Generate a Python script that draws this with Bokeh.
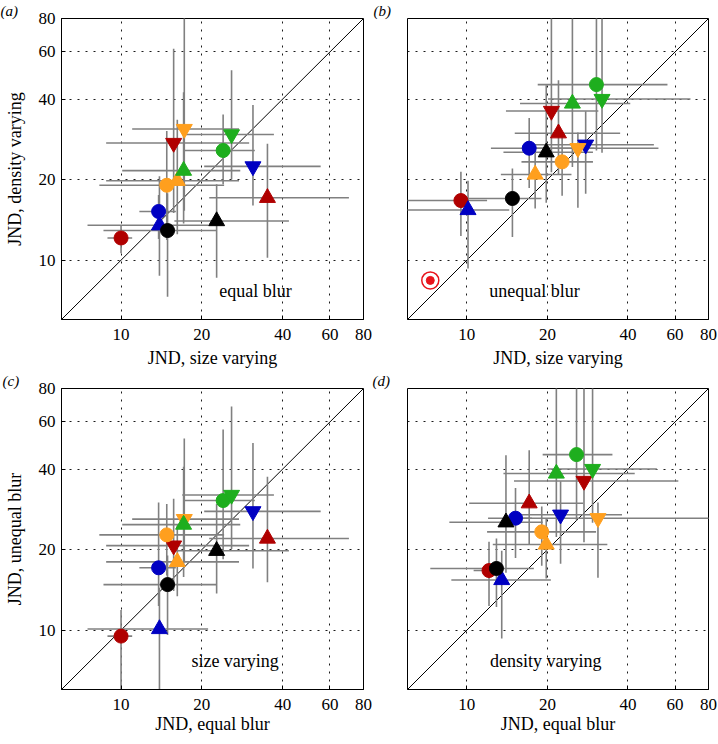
import math
from bokeh.plotting import figure
from bokeh.models import Range1d, FixedTicker, Label, NumeralTickFormatter
from bokeh.layouts import column, row
from bokeh.embed import file_html
from bokeh.resources import INLINE

# ---- data: one entry per observer/condition series ----
series = ["red o", "red ^", "red v", "blue o", "blue ^", "blue v", "black o", "black ^",
          "orange o", "orange ^", "orange v", "green o", "green ^", "green v"]

# JND, size varying, equal blur (centre, lower, upper)
se = [10.0, 35.1, 15.7, 13.8, 13.9, 31.0, 14.9, 22.7, 14.8, 16.2, 17.2, 24.0, 17.1, 25.8]
se_lo = [8.9, 21.3, 8.8, 11.7, 7.5, 20.4, 8.6, 15.8, 8.3, 8.8, 11.0, 17.3, 10.1, 16.9]
se_hi = [11.0, 70.6, 30.0, 16.0, 21.1, 55.4, 22.7, 42.2, 24.2, 27.5, 27.5, 31.5, 27.8, 37.1]
# JND, density varying, equal blur
de = [12.1, 17.1, 27.4, 15.2, 13.5, 22.4, 12.9, 14.0, 19.05, 19.8, 30.9, 25.7, 21.6, 29.5]
de_lo = [10.6, 10.2, 15.0, 12.0, 8.75, 16.0, 7.3, 8.6, 11.9, 12.5, 15.3, 19.2, 13.7, 20.0]
de_hi = [13.5, 27.2, 61.7, 17.5, 20.6, 38.0, 17.8, 19.2, 30.4, 33.5, 95.0, 35.0, 42.4, 51.3]
# JND, size varying, unequal blur
su = [9.5, 22.0, 20.7, 17.1, 10.1, 27.8, 14.8, 19.8, 22.7, 18.0, 26.0, 30.5, 24.8, 32.0]
su_lo = [5.0, 15.1, 14.0, 12.3, 5.0, 17.0, 9.6, 13.7, 16.0, 13.4, 18.0, 18.4, 15.8, 20.1]
su_hi = [11.9, 37.4, 31.0, 30.0, 14.4, 50.0, 19.0, 29.6, 29.6, 24.6, 52.0, 56.2, 40.8, 68.5]
# JND, density varying, unequal blur
du = [16.7, 29.8, 36.1, 26.2, 15.4, 27.0, 17.0, 25.3, 23.3, 20.9, 26.2, 45.3, 38.5, 40.0]
du_lo = [12.3, 21.0, 21.3, 18.6, 9.3, 17.7, 12.2, 16.4, 17.4, 15.6, 15.7, 25.7, 22.3, 25.2]
du_hi = [21.4, 47.0, 95.0, 34.0, 19.8, 36.0, 22.0, 45.0, 29.0, 26.0, 30.0, 95.0, 95.0, 95.0]

# special reference point in panel (b)
ref_x = [7.3]
ref_y = [8.4]

ticks = [10, 20, 40, 60, 80]
grid_ticks = [10, 20, 40, 60]
axis_lo, axis_hi = 6, 80

# ---- styles ----
RED, BLUE, BLACK, ORANGE, GREEN = "#b00000", "#0000c2", "#000000", "#ff9f1e", "#1eae1e"
colors = [RED, RED, RED, BLUE, BLUE, BLUE, BLACK, BLACK, ORANGE, ORANGE, ORANGE, GREEN, GREEN, GREEN]
markers = ["circle", "triangle", "inverted_triangle"] * 2 + ["circle", "triangle"] + \
          ["circle", "triangle", "inverted_triangle"] * 2
SERIF = "Liberation Serif"


def panel(xv, xlo, xhi, yv, ylo, yhi, xlabel, xlabel_standoff, ylabel, tag, tag_offset,
          note, note_xy, fw, borders, left_col):
    bl, br, bt, bb = borders
    p = figure(x_axis_type="log", y_axis_type="log",
               x_range=Range1d(axis_lo, axis_hi), y_range=Range1d(axis_lo, axis_hi),
               frame_width=fw, frame_height=301,
               min_border_left=bl, min_border_right=br, min_border_top=bt, min_border_bottom=bb,
               output_backend="svg", toolbar_location=None,
               background_fill_color="white", border_fill_color="white")
    p.outline_line_color = "black"
    p.outline_line_width = 1
    p.outline_line_alpha = 1

    # panel tag, e.g. "(a)", drawn as the title to the upper left of the frame
    p.title.text = tag
    p.title.align = "left"
    p.title.offset = tag_offset
    p.title.standoff = 0
    p.title.text_font = SERIF
    p.title.text_font_size = "15px"
    p.title.text_font_style = "italic"
    p.title.text_color = "black"

    for ax in (p.xaxis, p.yaxis):
        ax.ticker = FixedTicker(ticks=ticks)
        ax.formatter = NumeralTickFormatter(format="0")
        ax.major_tick_in = 4
        ax.major_tick_out = 0
        ax.minor_tick_line_color = None
        ax.axis_line_color = "black"
        ax.major_tick_line_color = "black"
        ax.major_label_text_font = SERIF
        ax.major_label_text_font_size = "17px"
        ax.major_label_text_color = "black"
        ax.axis_label_text_font = SERIF
        ax.axis_label_text_font_size = "18px"
        ax.axis_label_text_font_style = "normal"
        ax.axis_label_text_color = "black"
    p.xaxis.major_label_standoff = 9
    p.xaxis.axis_label_standoff = xlabel_standoff
    p.xaxis.axis_label = xlabel
    p.yaxis.major_label_standoff = 6
    if left_col:
        p.yaxis.axis_label = ylabel
        p.yaxis.axis_label_standoff = 11
    else:
        p.yaxis.visible = False

    for g in (p.xgrid, p.ygrid):
        g.ticker = FixedTicker(ticks=grid_ticks)
        g.grid_line_color = "#1a1a1a"
        g.grid_line_dash = "2 6"
        g.grid_line_width = 1

    # identity line
    p.line([axis_lo, axis_hi], [axis_lo, axis_hi], line_color="black", line_width=1)

    # error bars
    p.segment(x0=xlo, y0=yv, x1=xhi, y1=yv, line_color="#808080", line_width=1.6)
    p.segment(x0=xv, y0=ylo, x1=xv, y1=yhi, line_color="#808080", line_width=1.6)

    # markers
    for i in range(len(series)):
        sz = 14 if markers[i] == "circle" else 16
        p.scatter([xv[i]], [yv[i]], marker=markers[i], size=sz,
                  fill_color=colors[i], line_color=colors[i], line_width=1)

    p.add_layout(Label(x=note_xy[0], y=note_xy[1], text=note, text_font=SERIF,
                       text_font_size="18px", text_align="center", text_baseline="middle",
                       text_color="black"))
    return p


pa = panel(se, se_lo, se_hi, de, de_lo, de_hi, "JND, size varying", 5, "JND, density varying",
           "(a)", -61, "equal blur", (31.7, 7.7), 302, (61, 9, 17, 50), True)
pb = panel(su, su_lo, su_hi, du, du_lo, du_hi, "JND, size varying", 5, "",
           "(b)", -34, "unequal blur", (17.9, 7.7), 301, (35, 10, 17, 50), False)
pb.scatter(ref_x, ref_y, marker="circle", size=17, fill_color="white",
           line_color="#e8141c", line_width=1.5)
pb.scatter(ref_x, ref_y, marker="circle", size=8, fill_color="#e8141c",
           line_color="#e8141c")
pc = panel(se, se_lo, se_hi, su, su_lo, su_hi, "JND, equal blur", 1, "JND, unequal blur",
           "(c)", -59, "size varying", (26.6, 7.7), 302, (61, 9, 16, 45), True)
pd = panel(de, de_lo, de_hi, du, du_lo, du_hi, "JND, equal blur", 1, "",
           "(d)", -35, "density varying", (19.7, 7.7), 301, (35, 10, 16, 45), False)

layout = column(row(pa, pb), row(pc, pd))
open("out.html", "w").write(file_html(layout, INLINE))
